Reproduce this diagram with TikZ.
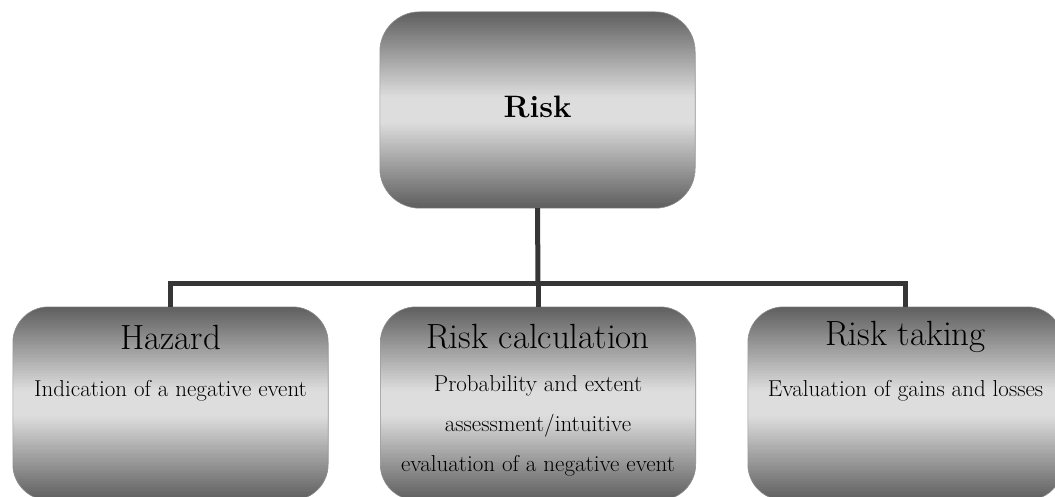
\documentclass[tikz,border=0pt]{standalone}
\usetikzlibrary{calc}
\definecolor{boxdark}{HTML}{5E5E5E}
\definecolor{boxlight}{HTML}{DDDDDD}
\definecolor{boxedge}{HTML}{8E8E8E}
\definecolor{linecol}{HTML}{363636}
\tikzset{
  boxshape/.style={rectangle, draw=none, inner sep=0pt, minimum width=315pt},
  conn/.style={draw=linecol, line width=5pt},
  titletext/.style={font=\fontsize{35}{40}\selectfont, inner sep=0pt},
  desctext/.style={font=\fontsize{23}{40}\selectfont, inner sep=0pt, align=center},
}
% vertical dark-light-dark gradient inside a rounded box node
\newcommand\gradfill[2]{%
  \begin{scope}
    \clip[rounded corners=#2] (#1.south west) rectangle (#1.north east);
    \foreach \i in {0,...,119} {
      \pgfmathsetmacro\p{min(100,115*(1-abs(2*(\i+0.5)/120-1)))}
      \fill[boxlight!\p!boxdark]
        ($(#1.north west)!{\i/120}!(#1.south west)$) rectangle
        ($(#1.north east)!{(\i+1.3)/120}!(#1.south east)$);
    }
  \end{scope}
  \draw[boxedge, line width=0.6pt, rounded corners=#2] (#1.south west) rectangle (#1.north east);}
\begin{document}
\begin{tikzpicture}[x=1pt,y=-1pt]
\useasboundingbox (0,0) rectangle (1055,497);
% top box
\node[boxshape, minimum height=196pt] (risk) at (537.5,110) {};
\gradfill{risk}{40pt}
\node[font=\bfseries\fontsize{31}{36}\selectfont, inner sep=0pt] (risklbl) at (537.5,107) {Risk};
% lower boxes
\node[boxshape, minimum height=193pt] (hazard) at (170.5,403.5) {};
\node[boxshape, minimum height=193pt] (calc) at (538,403.5) {};
\node[boxshape, minimum height=193pt] (taking) at (905.5,403.5) {};
\gradfill{hazard}{36pt}
\gradfill{calc}{36pt}
\gradfill{taking}{36pt}
% titles
\node[titletext] (hazardlbl) at (170.5,337) {Hazard};
\node[titletext] (calclbl) at (538,337) {Risk calculation};
\node[titletext] (takinglbl) at (905.5,337) {Risk taking};
% descriptions
\node[desctext] (hazarddesc) at (170.5,391) {Indication of a negative event};
\node[desctext, anchor=north] (calcdesc) at (538,375) {Probability and extent\\assessment/intuitive\\evaluation of a negative event};
\node[desctext] (takingdesc) at (905.5,391) {Evaluation of gains and losses};
% connectors
\coordinate (bus) at (538,283);
\draw[conn] (risk.south) -- (bus);
\draw[conn] (hazard.north) |- (bus) -| (taking.north);
\draw[conn] (calc.north) -- (bus);
\end{tikzpicture}
\end{document}
